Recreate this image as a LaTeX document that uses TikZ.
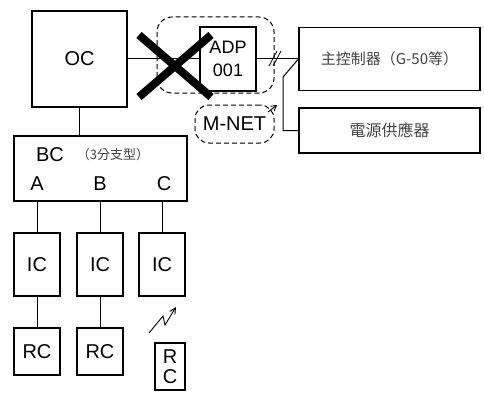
\documentclass[tikz,border=0pt]{standalone}
\usepackage{fontspec}
\setmainfont{Liberation Sans}
\newfontfamily\cjkfont{Noto Sans CJK TC}
\usetikzlibrary{arrows.meta}

\begin{document}
\begin{tikzpicture}[x=1pt, y=-1pt,
    unit/.style={draw, line width=1.1pt, inner sep=0pt, align=center,
                 font=\fontsize{20}{20}\selectfont},
    cjkbox/.style={unit, font=\cjkfont\fontsize{15}{17}\selectfont, text=black!75},
    lbl/.style={inner sep=0pt, font=\fontsize{20}{20}\selectfont},
    wire/.style={line width=1pt},
    group/.style={line width=1pt, dash pattern=on 5pt off 3pt, rounded corners=15pt},
    cross/.style={line width=8pt},
    radio/.style={line width=0.9pt, -{Straight Barb[length=6pt, width=6pt]}}
]
\useasboundingbox (0,0) rectangle (484,396);

% outdoor unit, adapter and central side
\node[unit, minimum width=95pt, minimum height=96pt] (oc) at (79.5,59) {OC};
\node[unit, minimum width=56pt, minimum height=64pt, font=\fontsize{18}{23}\selectfont] (adp) at (228,59) {ADP\\001};
\node[cjkbox, minimum width=181pt, minimum height=63pt] (main) at (389.5,59) {主控制器（G-50等）};
\node[cjkbox, minimum width=181pt, minimum height=45pt, font=\cjkfont\fontsize{16}{18}\selectfont] (power) at (389.5,130.5) {電源供應器};
\node[unit, dash pattern=on 5pt off 3pt, rounded corners=14pt, line width=1pt,
      minimum width=79pt, minimum height=38pt] (mnet) at (234.5,124) {M-NET};

% branch box
\node[unit, minimum width=173pt, minimum height=65pt] (bc) at (100.5,168.5) {};
\node[lbl] (bcname) at (50,155) {BC};
\node[inner sep=0pt, font=\cjkfont\fontsize{13}{15}\selectfont, text=black!75] (bctype) at (113,155) {（3分支型）};
\node[lbl] (porta) at (37,184) {A};
\node[lbl] (portb) at (100,184) {B};
\node[lbl] (portc) at (164,184) {C};

% indoor units and remotes
\foreach \i/\x in {1/37, 2/100, 3/162} {
    \node[unit, minimum width=46pt, minimum height=63pt] (ic\i) at (\x,264.5) {IC};
}
\foreach \i/\x in {1/37, 2/100} {
    \node[unit, minimum width=46pt, minimum height=47pt] (rc\i) at (\x,351.5) {RC};
}
\node[unit, minimum width=30pt, minimum height=47pt] (rc3) at (170,366.5) {R\\C};

% connections
\coordinate (sw) at (283,77);
\draw[wire] (oc.east) -- (adp.west);
\draw[wire] (adp.east) -- (main.west);
\draw[wire] (main.west) -- (sw) |- (power.west);
\draw[wire] (oc.south) -- (oc.south |- bc.north);
\foreach \i in {1,2,3} {
    \draw[wire] (ic\i.north |- bc.south) -- (ic\i.north);
}
\draw[wire] (ic1) -- (rc1);
\draw[wire] (ic2) -- (rc2);

% double slash on the bus
\draw[line width=0.8pt] (269,66) -- (277,51);
\draw[line width=0.8pt] (273,66) -- (281,51);

% adapter group and cross
\draw[group] (157,17) rectangle (274,93);
\draw[cross] (139,35) -- (211,97);
\draw[cross] (139,97) -- (211,35);

% M-NET pointer
\draw[line width=0.9pt, -{Straight Barb[length=5pt, width=6pt]}] (268,112) -- (277,105);

% wireless link
\draw[radio] (149,333) -- (163,316) -- (165,325) -- (176,307);
\end{tikzpicture}
\end{document}
